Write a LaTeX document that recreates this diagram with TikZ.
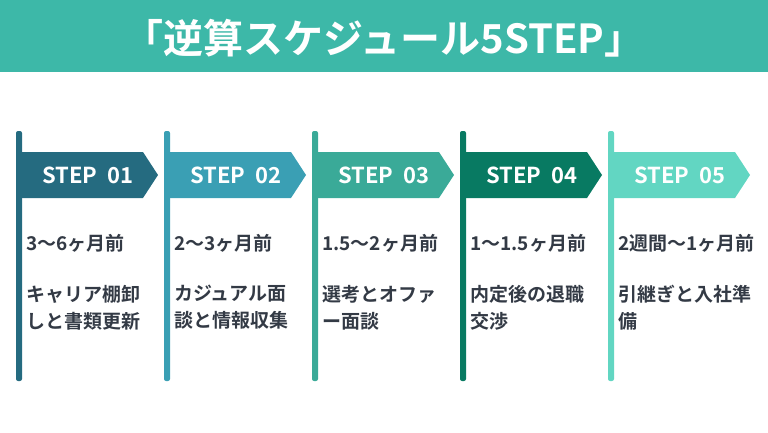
\documentclass[tikz,border=0pt]{standalone}
\usepackage{fontspec}
\newfontfamily\jp{Noto Sans CJK JP}[BoldFont={* Bold}]
\definecolor{c1}{HTML}{256B80}
\definecolor{c2}{HTML}{3A9FB4}
\definecolor{c3}{HTML}{3AAA98}
\definecolor{c4}{HTML}{087A62}
\definecolor{c5}{HTML}{62D6C2}
\definecolor{ttl}{HTML}{3DB8A8}
\definecolor{txt}{HTML}{333A45}
\tikzset{
  lbl/.style={font=\jp\bfseries\fontsize{19}{27}\selectfont, text=txt, anchor=west, align=left, inner sep=0pt},
  stp/.style={font=\jp\bfseries\fontsize{22}{24}\selectfont, text=white, inner sep=0pt}
}
\begin{document}
\begin{tikzpicture}[x=1pt,y=-1pt]
\useasboundingbox (0,0) rectangle (768,432);
\fill[ttl] (0,0) rectangle (768,72);
\node[font=\jp\bfseries\fontsize{40}{44}\selectfont, text=white] (title) at (384,38) {「逆算スケジュール5STEP」};
\foreach \i/\c/\p/\a/\b in {0/c1/3〜6ヶ月前/キャリア棚卸/しと書類更新,
  1/c2/2〜3ヶ月前/カジュアル面/談と情報収集,
  2/c3/1.5〜2ヶ月前/選考とオファ/ー面談,
  3/c4/1〜1.5ヶ月前/内定後の退職/交渉,
  4/c5/2週間〜1ヶ月前/引継ぎと入社準/備}{
  \pgfmathsetmacro{\x}{16+148*\i}
  \fill[\c, rounded corners=2pt] (\x,131) rectangle ({\x+6},381);
  \fill[\c] ({\x+6},152) -- ({\x+127},152) -- ({\x+142},175) -- ({\x+127},198) -- ({\x+6},198) -- cycle;
  \node[stp] (s\i) at ({\x+72},175) {STEP\ \ 0\the\numexpr\i+1\relax};
  \node[lbl] (p\i) at ({\x+10},243) {\p};
  \node[lbl, anchor=north west] (d\i) at ({\x+10},285) {\a\\\b};
}
\end{tikzpicture}
\end{document}
